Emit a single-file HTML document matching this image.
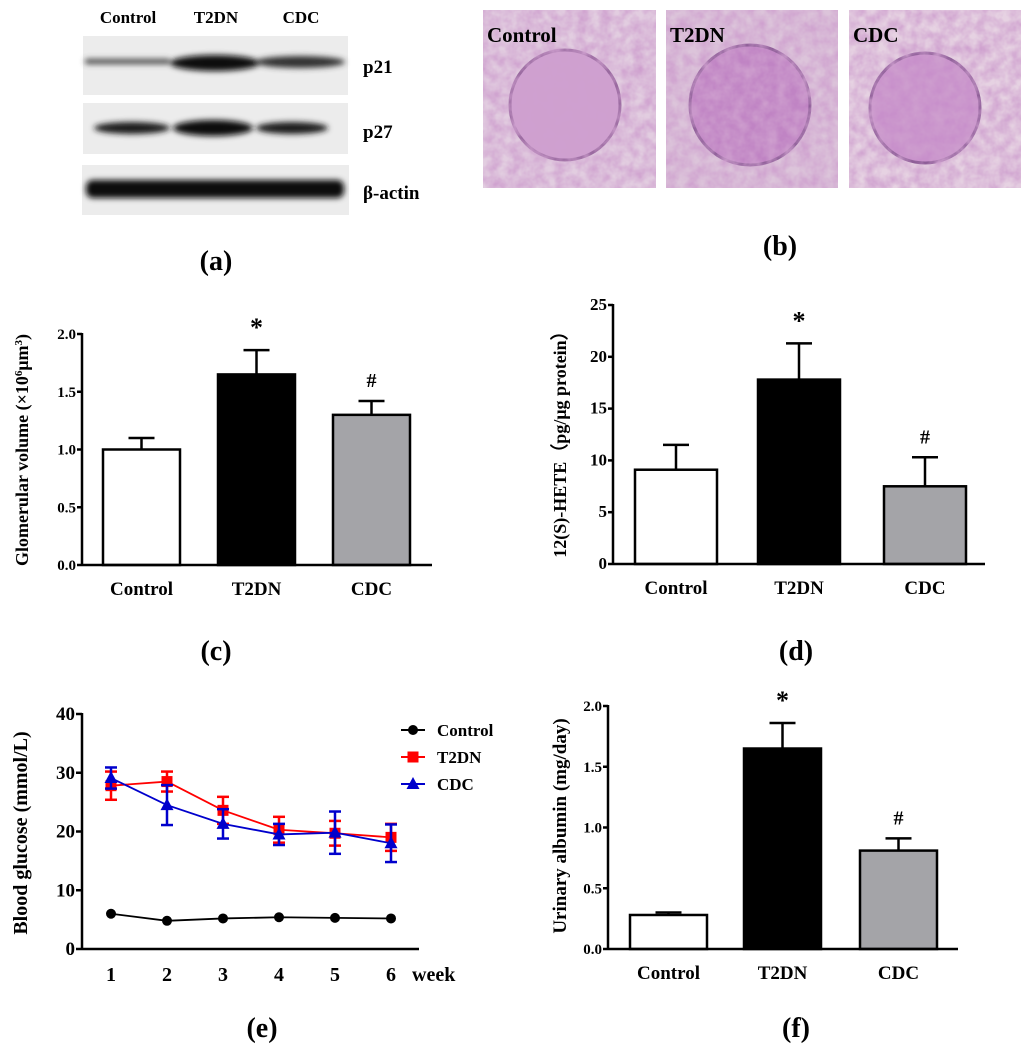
<!DOCTYPE html>
<html><head><meta charset="utf-8"><style>
body{margin:0;background:#fff;}
svg{display:block;font-family:"Liberation Serif",serif;font-weight:bold;}
</style></head><body>
<svg id="fig" width="1024" height="1047" viewBox="0 0 1024 1047">
<defs>
<filter id="blur2" x="-20%" y="-100%" width="140%" height="300%"><feGaussianBlur stdDeviation="3"/></filter>
<filter id="tex" filterUnits="objectBoundingBox" x="0" y="0" width="1" height="1"><feTurbulence type="fractalNoise" baseFrequency="0.09" numOctaves="3" seed="4"/><feColorMatrix values="0 0 0 0 0.62  0 0 0 0 0.35  0 0 0 0 0.62  0 0 0 1.5 -0.35"/></filter>
</defs>
<!-- Panel a: western blot -->
<g>
<text x="128" y="23" font-size="17" text-anchor="middle">Control</text>
<text x="216" y="23" font-size="17" text-anchor="middle">T2DN</text>
<text x="301" y="23" font-size="17" text-anchor="middle">CDC</text>
<rect x="83" y="36" width="265" height="59" fill="#ececec"/>
<rect x="83" y="103" width="265" height="51" fill="#ececec"/>
<rect x="82" y="165" width="267" height="50" fill="#ececec"/>
<g filter="url(#blur2)">
<rect x="85" y="59" width="85" height="5" rx="2" fill="#444"/>
<ellipse cx="215" cy="63" rx="45" ry="8" fill="#111"/>
<ellipse cx="300" cy="62" rx="45" ry="6" fill="#333"/>
<ellipse cx="132" cy="128" rx="38" ry="6" fill="#1a1a1a"/>
<ellipse cx="213" cy="128" rx="40" ry="8" fill="#0d0d0d"/>
<ellipse cx="292" cy="128" rx="36" ry="6" fill="#1a1a1a"/>
<rect x="86" y="180" width="258" height="18" rx="7" fill="#0a0a0a"/>
</g>
<text x="363" y="73" font-size="19">p21</text>
<text x="363" y="138" font-size="19">p27</text>
<text x="363" y="199" font-size="19">β-actin</text>
<text x="216" y="270" font-size="28" text-anchor="middle">(a)</text>
</g>
<!-- Panel b: histology -->
<g>
<g>
<rect x="483" y="10" width="173" height="178" fill="#e2cde0"/>
<circle cx="565" cy="105" r="55" fill="#cfa0d0" stroke="#9a6aa0" stroke-width="3"/>
<rect x="483" y="10" width="173" height="178" filter="url(#tex)"/>
<text x="487" y="42" font-size="21">Control</text>
</g>
<g>
<rect x="666" y="10" width="172" height="178" fill="#dcc4da"/>
<circle cx="750" cy="105" r="60" fill="#c084c4" stroke="#8e5e98" stroke-width="3"/>
<rect x="666" y="10" width="172" height="178" filter="url(#tex)"/>
<text x="670" y="42" font-size="21">T2DN</text>
</g>
<g>
<rect x="849" y="10" width="172" height="178" fill="#e6d2e2"/>
<circle cx="925" cy="108" r="55" fill="#c890cb" stroke="#8e5e98" stroke-width="3"/>
<rect x="849" y="10" width="172" height="178" filter="url(#tex)"/>
<text x="853" y="42" font-size="21">CDC</text>
</g>
<text x="780" y="255" font-size="28" text-anchor="middle">(b)</text>
</g>
<g id="charts"></g>
<text x="216" y="660" font-size="28" text-anchor="middle">(c)</text>
<text x="796" y="660" font-size="28" text-anchor="middle">(d)</text>
<text x="262" y="1037" font-size="28" text-anchor="middle">(e)</text>
<text x="796" y="1037" font-size="28" text-anchor="middle">(f)</text>
</svg>
<script>
const groups = ["Control","T2DN","CDC"];
const glomMeans = [1.0, 1.65, 1.3];
const glomErr = [0.1, 0.21, 0.12];
const glomTicks = ["0.0","0.5","1.0","1.5","2.0"];
const heteMeans = [9.1, 17.8, 7.5];
const heteErr = [2.4, 3.5, 2.8];
const heteTicks = ["0","5","10","15","20","25"];
const albMeans = [0.28, 1.65, 0.81];
const albErr = [0.02, 0.21, 0.1];
const albTicks = ["0.0","0.5","1.0","1.5","2.0"];
const sigMarks = ["", "*", "#"];
const weeks = ["1","2","3","4","5","6"];
const gluControl = [6.0, 4.8, 5.2, 5.4, 5.3, 5.2];
const gluControlErr = [0.3, 0.3, 0.3, 0.3, 0.3, 0.3];
const gluT2DN = [27.8, 28.5, 23.6, 20.3, 19.7, 19.0];
const gluT2DNErr = [2.4, 1.7, 2.3, 2.2, 2.1, 2.3];
const gluCDC = [29.1, 24.5, 21.3, 19.5, 19.8, 18.0];
const gluCDCErr = [1.8, 3.4, 2.5, 1.8, 3.6, 3.2];
const gluTicks = ["0","10","20","30","40"];

const NS="http://www.w3.org/2000/svg";
const root=document.getElementById('charts');
function mk(tag,attrs,parent){const e=document.createElementNS(NS,tag);for(const k in attrs)e.setAttribute(k,attrs[k]);(parent||root).appendChild(e);return e;}

function barChart(cfg,means,errs,ticks){
  const g=mk('g',{});
  
  
  const max=parseFloat(ticks[ticks.length-1]);
  const y=v=>cfg.y0-(v/max)*(cfg.y0-cfg.yTop);
  ticks.forEach(t=>{
    const v=parseFloat(t);
    mk('line',{x1:cfg.ax-5,x2:cfg.ax,y1:y(v),y2:y(v),stroke:'#000','stroke-width':2.5},g);
    const tx=mk('text',{x:cfg.ax-6,y:y(v)+5,'font-size':cfg.tfs||15,'text-anchor':'end'},g);
    tx.textContent=t;
    
    
  });
  const fills=['#fff','#000','#a4a4a8'];
  means.forEach((m,i)=>{
    const bx=cfg.bars[i], bw=cfg.bw, cx=bx+bw/2;
    const top=y(m+errs[i]);
    const el=mk('line',{x1:cx,x2:cx,y1:y(m),y2:top,stroke:'#000','stroke-width':2.5},g);
    
    
    mk('line',{x1:cx-13,x2:cx+13,y1:top,y2:top,stroke:'#000','stroke-width':2.5},g);
    const r=mk('rect',{x:bx,y:y(m),width:bw,height:cfg.y0-y(m),fill:fills[i],stroke:'#000','stroke-width':2.5},g);
    
    
    const lt=mk('text',{x:cx,y:cfg.y0+30,'font-size':19,'text-anchor':'middle'},g);
    lt.textContent=groups[i];
    
    
    if(sigMarks[i]){
      const s=mk('text',{x:cx,y:top-14,'font-size':sigMarks[i]=='*'?26:20,'text-anchor':'middle'},g);
      s.textContent=sigMarks[i];
      
      
    }
  });
  mk('line',{x1:cfg.ax,x2:cfg.ax,y1:cfg.yTop-1,y2:cfg.y0,stroke:'#000','stroke-width':2.5},g);
  mk('line',{x1:cfg.ax,x2:cfg.axEnd,y1:cfg.y0,y2:cfg.y0,stroke:'#000','stroke-width':2.5},g);
  const yl=mk('text',{transform:`translate(${cfg.ylx},${cfg.yly}) rotate(-90)`,'font-size':cfg.ylfs||18,'text-anchor':'middle'},g);
  yl.innerHTML=cfg.ylabel;
  
  
}
barChart({name:'chart-c-glomerular-volume',ax:82,axEnd:432,y0:565,yTop:334,bars:[103,218,333],bw:77,ylx:28,yly:450,ylfs:18,
  ylabel:'Glomerular  volume (×10<tspan baseline-shift="super" font-size="11">6</tspan>μm<tspan baseline-shift="super" font-size="11">3</tspan>)'},glomMeans,glomErr,glomTicks);
barChart({name:'chart-d-12s-hete',ax:613,axEnd:985,y0:564,yTop:305,bars:[635,758,884],bw:82,ylx:566,yly:440,ylfs:18,tfs:17,
  ylabel:'12(S)-HETE（pg/μg protein）'},heteMeans,heteErr,heteTicks);
barChart({name:'chart-f-urinary-albumin',ax:608,axEnd:958,y0:949,yTop:706,bars:[630,744,860],bw:77,ylx:566,yly:826,ylfs:19,
  ylabel:'Urinary albumin (mg/day)'},albMeans,albErr,albTicks);

// Line chart e
(function(){
  const g=mk('g',{});
  
  
  const ax=82,y0=949,yTop=714,x1=111,dx=56,max=40;
  const y=v=>y0-(v/max)*(y0-yTop);
  const x=i=>x1+i*dx;
  gluTicks.forEach(t=>{
    const v=parseFloat(t);
    mk('line',{x1:ax-6,x2:ax,y1:y(v),y2:y(v),stroke:'#000','stroke-width':2.5},g);
    const tx=mk('text',{x:ax-7,y:y(v)+6,'font-size':19,'text-anchor':'end'},g);
    tx.textContent=t;
    
    
  });
  weeks.forEach((w,i)=>{
    const tx=mk('text',{x:x(i),y:y0+32,'font-size':20,'text-anchor':'middle'},g);
    tx.textContent=w;
    
    
  });
  const wk=mk('text',{x:412,y:y0+32,'font-size':20},g);
  wk.textContent='week';
  
  
  mk('line',{x1:ax,x2:ax,y1:yTop-1,y2:y0,stroke:'#000','stroke-width':2.5},g);
  mk('line',{x1:ax,x2:419,y1:y0,y2:y0,stroke:'#000','stroke-width':2.5},g);
  const series=[
    {name:'control',vals:gluControl,errs:gluControlErr,col:'#000',shape:'circle'},
    {name:'t2dn',vals:gluT2DN,errs:gluT2DNErr,col:'#ff0000',shape:'square'},
    {name:'cdc',vals:gluCDC,errs:gluCDCErr,col:'#0000cc',shape:'triangle'}];
  function marker(shape,cx,cy,col,parent){
    if(shape=='circle')return mk('circle',{cx:cx,cy:cy,r:5,fill:col},parent);
    if(shape=='square')return mk('rect',{x:cx-5.5,y:cy-5.5,width:11,height:11,fill:col},parent);
    return mk('polygon',{points:`${cx},${cy-7} ${cx-6.5},${cy+5} ${cx+6.5},${cy+5}`,fill:col},parent);
  }
  series.forEach(s=>{
    const sg=mk('g',{},g);
    
    
    if(s.name!='control'){
      s.vals.forEach((v,i)=>{
        const t=y(v+s.errs[i]),b=y(v-s.errs[i]);
        const e=mk('line',{x1:x(i),x2:x(i),y1:t,y2:b,stroke:s.col,'stroke-width':2.5},sg);
        
        
        mk('line',{x1:x(i)-6,x2:x(i)+6,y1:t,y2:t,stroke:s.col,'stroke-width':2.5},sg);
        mk('line',{x1:x(i)-6,x2:x(i)+6,y1:b,y2:b,stroke:s.col,'stroke-width':2.5},sg);
      });
    }
    const p=mk('polyline',{points:s.vals.map((v,i)=>x(i)+','+y(v)).join(' '),fill:'none',stroke:s.col,'stroke-width':1.8},sg);
    
    
    s.vals.forEach((v,i)=>{
      const m=marker(s.shape,x(i),y(v),s.col,sg);
      
      
    });
  });
  const labels=['Control','T2DN','CDC'];
  series.forEach((s,i)=>{
    const ly=730+i*27;
    const lg=mk('g',{},g);
    
    
    mk('line',{x1:401,x2:425,y1:ly,y2:ly,stroke:s.col,'stroke-width':2},lg);
    marker(s.shape,413,ly,s.col,lg);
    const t=mk('text',{x:437,y:ly+6,'font-size':17},lg);
    t.textContent=labels[i];
  });
  const yl=mk('text',{transform:'translate(27,833) rotate(-90)','font-size':20,'text-anchor':'middle'},g);
  yl.textContent='Blood glucose (mmol/L)';
  
  
})();
</script>
</body></html>
